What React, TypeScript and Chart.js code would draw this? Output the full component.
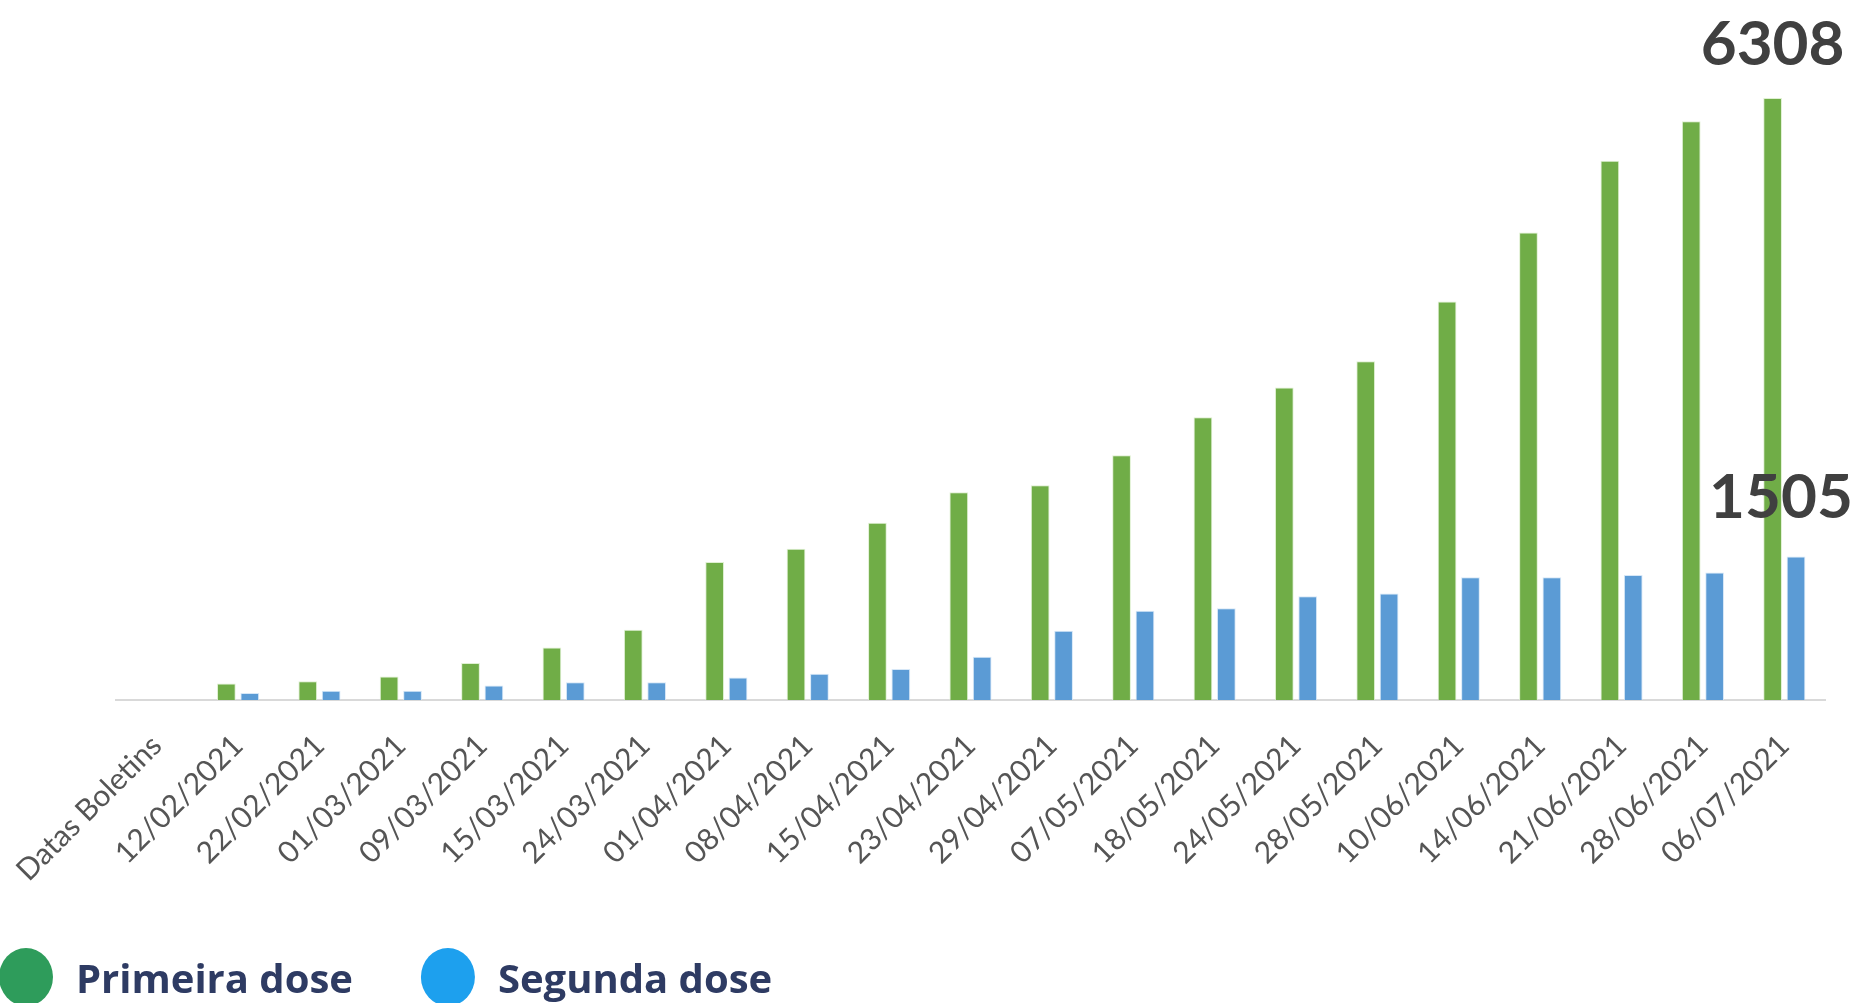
import React, { useEffect, useRef } from 'react';
import { Chart, registerables } from 'chart.js';

Chart.register(...registerables);

const categories = [
  'Datas Boletins', '12/02/2021', '22/02/2021', '01/03/2021', '09/03/2021', '15/03/2021',
  '24/03/2021', '01/04/2021', '08/04/2021', '15/04/2021', '23/04/2021', '29/04/2021',
  '07/05/2021', '18/05/2021', '24/05/2021', '28/05/2021', '10/06/2021', '14/06/2021',
  '21/06/2021', '28/06/2021', '06/07/2021',
];

const primeiraDose = [
  null, 172, 196, 245, 389, 549, 736, 1447, 1584, 1858, 2177, 2250,
  2566, 2962, 3275, 3550, 4175, 4900, 5650, 6065, 6308,
];

const segundaDose = [
  null, 74, 98, 98, 151, 187, 187, 237, 274, 324, 452, 725,
  936, 962, 1088, 1116, 1285, 1285, 1310, 1335, 1505,
];

const seriesLabels = ['Primeira dose', 'Segunda dose'];

const lastValueLabels = {
  id: 'lastValueLabels',
  afterDatasetsDraw(chart: any, _args: any, opts: any) {
    const { ctx } = chart;
    ctx.save();
    ctx.font = opts.font;
    ctx.fillStyle = opts.color;
    ctx.textAlign = 'center';
    ctx.textBaseline = 'alphabetic';
    chart.data.datasets.forEach((ds: any, di: number) => {
      const meta = chart.getDatasetMeta(di);
      const idx = ds.data.length - 1;
      const el = meta.data[idx];
      if (!el) return;
      const off = opts.offsets[di];
      ctx.fillText(String(ds.data[idx]), el.x + off.dx, el.y - off.dy);
    });
    ctx.restore();
  },
};

const customLegend = {
  id: 'customLegend',
  afterDraw(chart: any, _args: any, opts: any) {
    const { ctx } = chart;
    ctx.save();
    ctx.font = opts.font;
    ctx.textBaseline = 'alphabetic';
    ctx.textAlign = 'left';
    let cx = opts.startX;
    chart.data.datasets.forEach((ds: any, i: number) => {
      ctx.fillStyle = opts.colors[i];
      ctx.beginPath();
      ctx.ellipse(cx, opts.cy, opts.rx, opts.ry, 0, 0, Math.PI * 2);
      ctx.fill();
      ctx.fillStyle = opts.textColor;
      const tx = cx + opts.textGap;
      ctx.fillText(ds.label, tx, opts.baseline);
      const w = ctx.measureText(ds.label).width;
      cx = tx + w + opts.itemGap;
    });
    ctx.restore();
  },
};

export default function App() {
  const canvasRef = useRef<HTMLCanvasElement | null>(null);

  useEffect(() => {
    document.body.style.margin = '0';
    document.body.style.background = '#ffffff';
    const canvas = canvasRef.current;
    if (!canvas) return;
    const chart = new Chart(canvas, {
      type: 'bar',
      data: {
        labels: categories,
        datasets: [
          {
            label: seriesLabels[0],
            data: primeiraDose,
            backgroundColor: '#70AD47',
            borderColor: 'rgba(220,238,205,0.9)',
            borderWidth: 1,
            categoryPercentage: 0.575,
            barPercentage: 0.8,
          },
          {
            label: seriesLabels[1],
            data: segundaDose,
            backgroundColor: '#5B9BD5',
            borderColor: 'rgba(210,228,246,0.9)',
            borderWidth: 1,
            categoryPercentage: 0.575,
            barPercentage: 0.8,
          },
        ],
      },
      options: {
        responsive: false,
        animation: false,
        devicePixelRatio: 1,
        layout: { padding: { left: 116, right: 35, top: 32, bottom: 0 } },
        scales: {
          x: {
            grid: { display: false },
            border: { display: true, color: '#D9D9D9', width: 2 },
            ticks: {
              color: '#555555',
              font: { family: 'Lato', size: 30 },
              maxRotation: 45,
              minRotation: 45,
              autoSkip: false,
              padding: 20,
            },
            afterFit: (scale: any) => {
              scale.height = 303;
              scale.paddingLeft = 0;
              scale.paddingRight = 0;
            },
          },
          y: {
            display: false,
            min: 0,
            max: 7000,
          },
        },
        plugins: {
          legend: { display: false },
          tooltip: { enabled: false },
          lastValueLabels: {
            font: 'bold 62px Lato',
            color: '#404040',
            offsets: [
              { dx: 0, dy: 33 },
              { dx: -15, dy: 38 },
            ],
          },
          customLegend: {
            font: 'bold 40px "Open Sans"',
            textColor: '#2E3B63',
            colors: ['#2E9C5B', '#1DA0EE'],
            startX: 26,
            cy: 977,
            rx: 27,
            ry: 29,
            textGap: 50,
            itemGap: 95,
            baseline: 993,
          },
        } as any,
      },
      plugins: [lastValueLabels, customLegend],
    });
    return () => chart.destroy();
  }, []);

  return (
    <canvas
      ref={canvasRef}
      width={1860}
      height={1003}
      style={{ display: 'block', width: 1860, height: 1003 }}
    />
  );
}
